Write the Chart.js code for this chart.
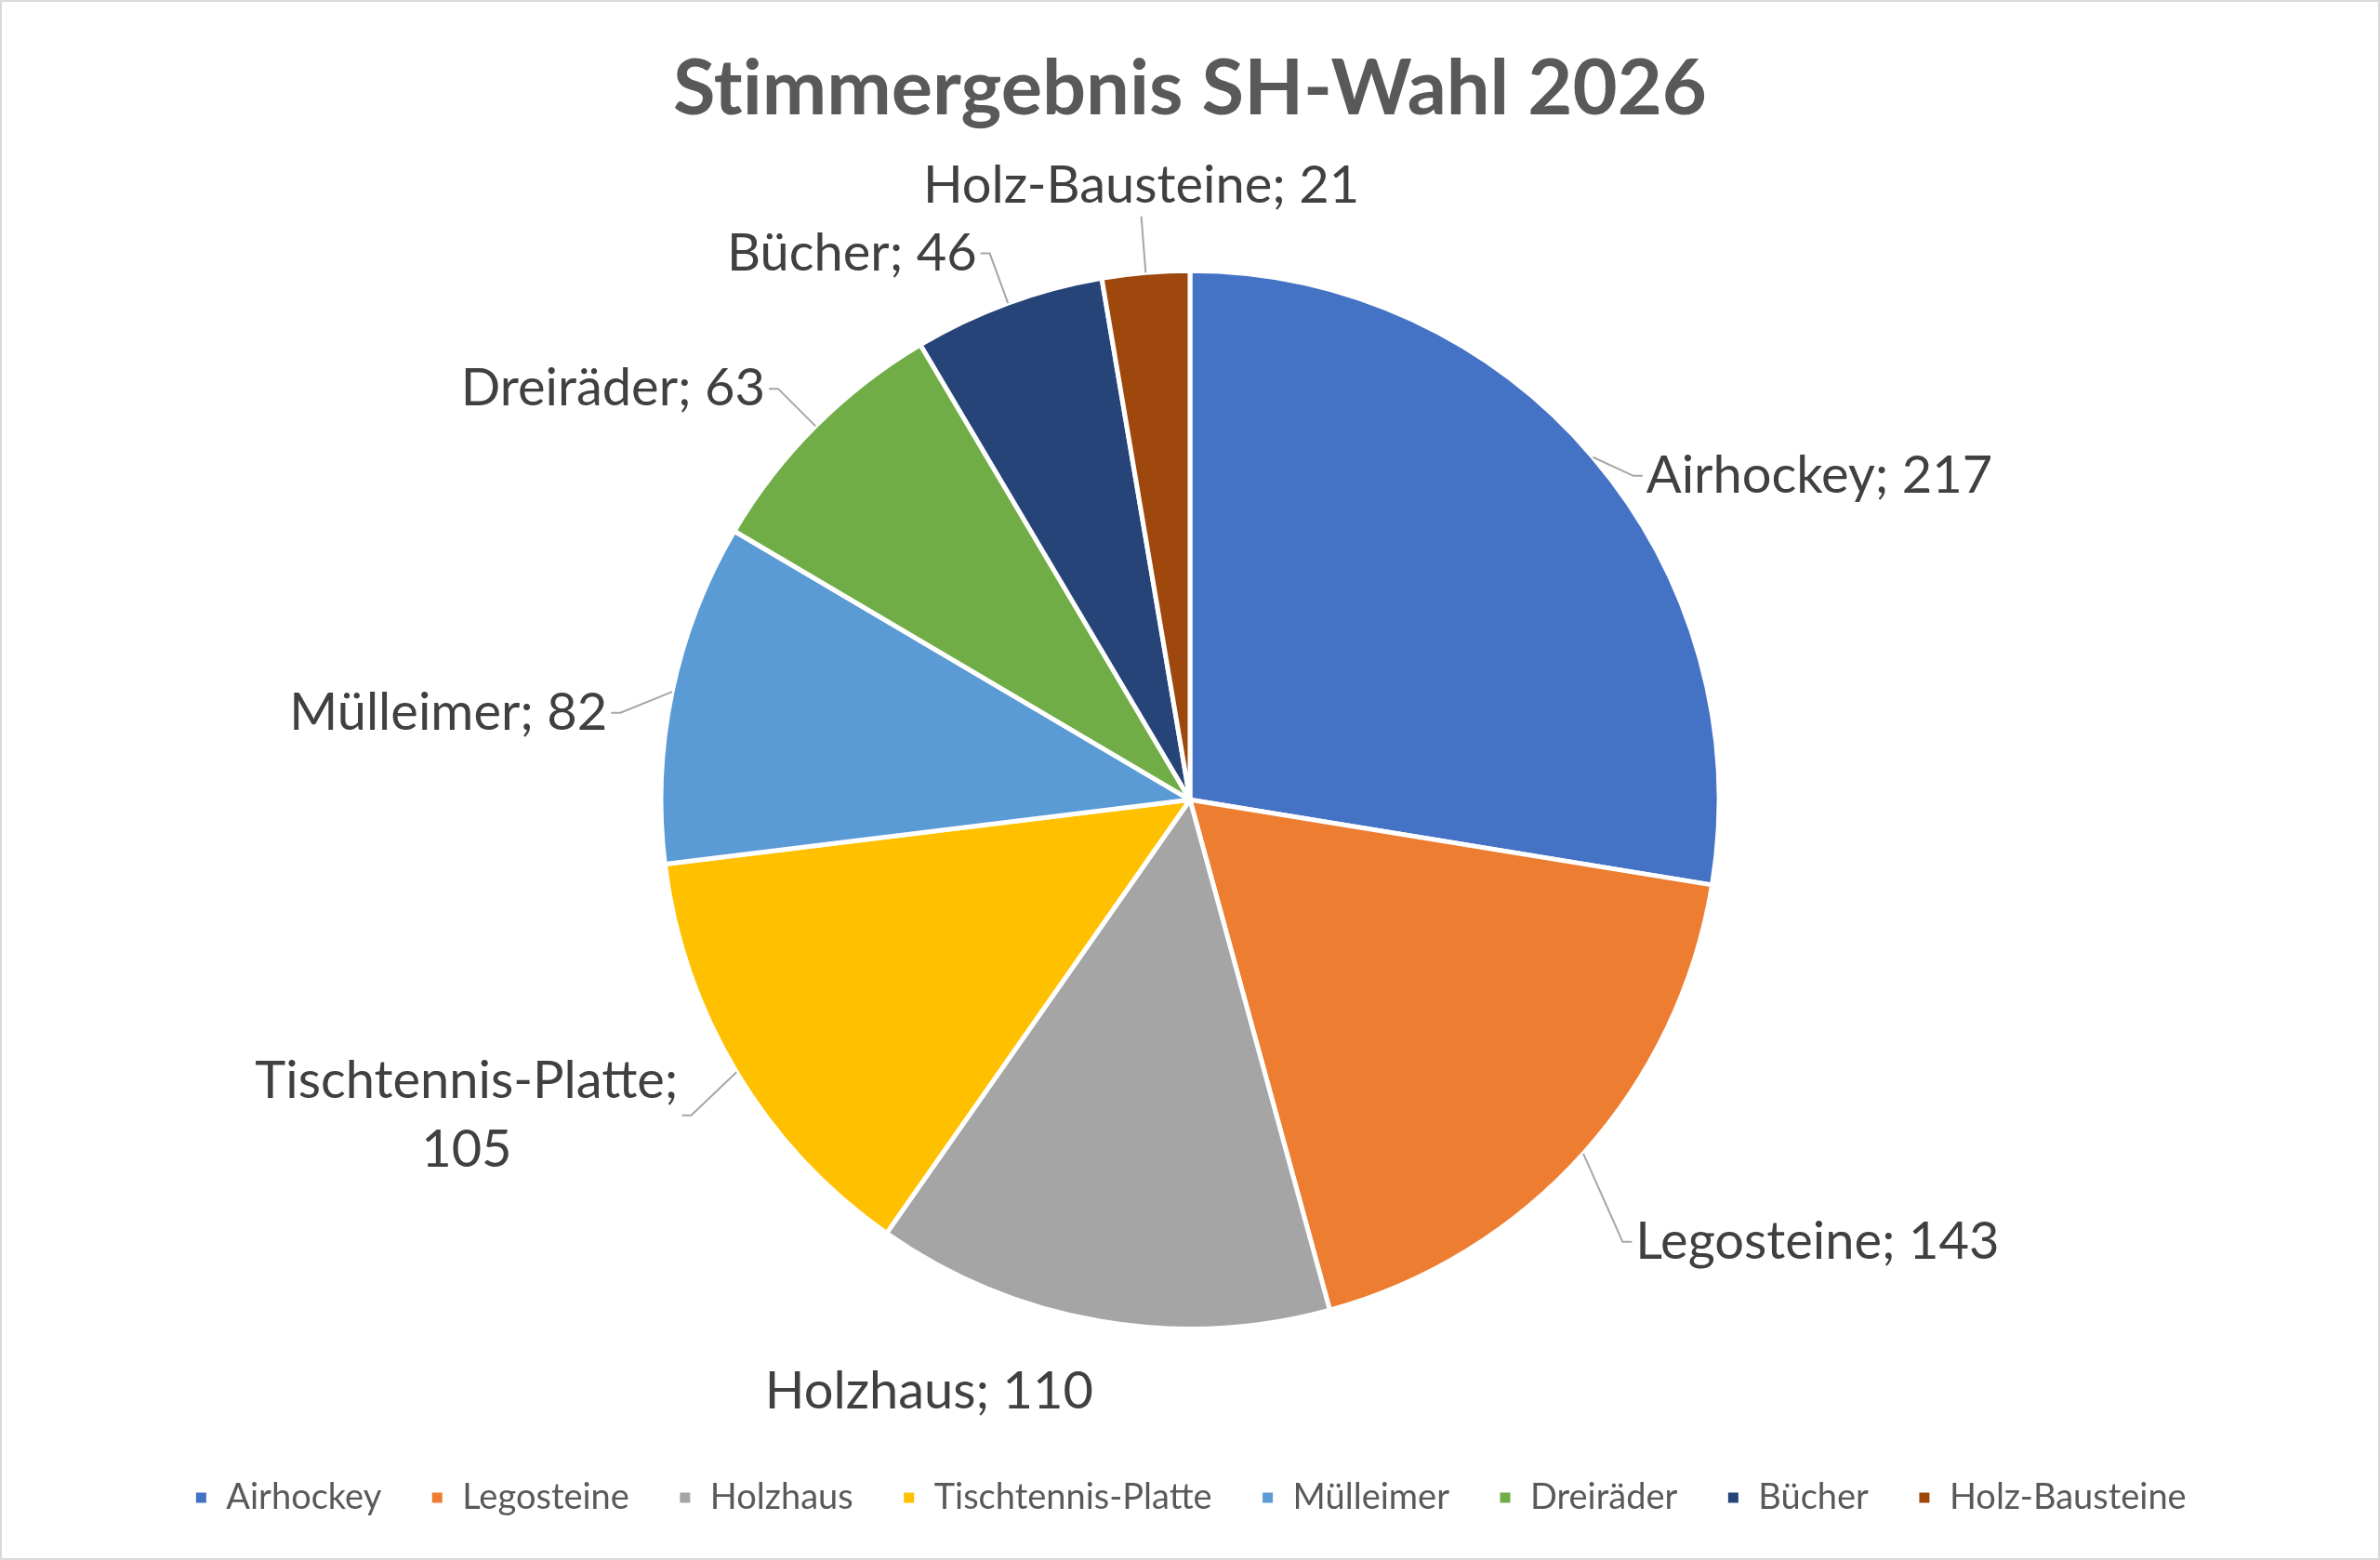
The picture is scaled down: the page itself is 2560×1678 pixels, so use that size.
<!DOCTYPE html>
<html>
<head>
<meta charset="utf-8">
<title>Stimmergebnis SH-Wahl 2026</title>
<script src="https://cdn.jsdelivr.net/npm/chart.js@4.4.1/dist/chart.umd.min.js"></script>
<style>
  html, body { margin: 0; padding: 0; background: #fff; }
  #wrap { position: relative; width: 2560px; height: 1678px; box-sizing: border-box; border: 2px solid #d9d9d9; }
</style>
</head>
<body>
<div id="wrap"><canvas id="voteChart"></canvas></div>
<script>
const categories = ['Airhockey', 'Legosteine', 'Holzhaus', 'Tischtennis-Platte', 'Mülleimer', 'Dreiräder', 'Bücher', 'Holz-Bausteine'];
const votes = [217, 143, 110, 105, 82, 63, 46, 21];
const sliceColors = ['#4472C4', '#ED7D31', '#A5A5A5', '#FFC000', '#5B9BD5', '#70AD47', '#264478', '#9E480E'];

// labels "Name; Wert" outside the slices, with thin leader lines
const sliceLabels = {
    id: 'sliceLabels',
    afterDatasetsDraw(chart) {
        const ctx = chart.ctx;
        const meta = chart.getDatasetMeta(0);
        const lineH = 74;
        ctx.save();
        ctx.font = '56px Lato';
        ctx.fillStyle = '#404040';
        ctx.strokeStyle = '#a6a6a6';
        ctx.lineWidth = 2;
        meta.data.forEach((arc, i) => {
            const p = arc.getProps(['x', 'y', 'startAngle', 'endAngle', 'outerRadius'], true);
            const mid = (p.startAngle + p.endAngle) / 2;
            const ux = Math.cos(mid), uy = Math.sin(mid);
            const r = p.outerRadius;
            const text = categories[i] + '; ' + votes[i];
            let lines = [text];
            if (ctx.measureText(text).width > 540) lines = [categories[i] + ';', String(votes[i])];
            const w = Math.max(...lines.map(l => ctx.measureText(l).width));
            const h = lines.length * lineH;
            const side = Math.abs(ux) > 0.3;
            const bottom = !side && uy > 0;
            const k = bottom ? 1.07 : 1.1;
            const ax = p.x + ux * r * k;
            const ay = p.y + uy * r * k;
            let cx, cy;
            if (side) {
                // excel hangs most side labels a little lower
                let drop = 0;
                if (ux > 0) drop = 0.1 * r;
                else if (uy > 0) drop = 0.03 * r;
                else if (uy > -0.5) drop = 0.06 * r;
                cy = ay + drop;
                cx = ux > 0 ? ax + 14 + w / 2 : ax - 14 - w / 2;
            } else if (bottom) {
                cx = ux < 0 ? ax - w / 2 : ax + w / 2;
                cy = ay + h / 2;
            } else {
                cx = ax;
                cy = ay - h / 2;
            }
            if (!bottom) {
                const ex = p.x + ux * r, ey = p.y + uy * r;
                ctx.beginPath();
                ctx.moveTo(ex, ey);
                if (side) {
                    ctx.lineTo(ax, cy);
                    ctx.lineTo(ux > 0 ? ax + 10 : ax - 10, cy);
                } else {
                    ctx.lineTo(ax, ay - 4);
                }
                ctx.stroke();
            }
            ctx.textAlign = 'center';
            ctx.textBaseline = 'middle';
            lines.forEach((l, n) => {
                ctx.fillText(l, cx, cy - h / 2 + lineH * (n + 0.5));
            });
        });
        ctx.restore();
    }
};

const chart = new Chart(document.getElementById('voteChart'), {
    type: 'pie',
    data: {
        labels: categories,
        datasets: [{
            data: votes,
            backgroundColor: sliceColors,
            borderColor: '#ffffff',
            borderWidth: 5,
            radius: 569
        }]
    },
    options: {
        responsive: true,
        maintainAspectRatio: false,
        animation: false,
        layout: { padding: { top: 0, bottom: 36, left: 0, right: 0 } },
        plugins: {
            title: {
                display: true,
                // zero-width non-joiner keeps Lato from fusing "ti"
                text: 'St\u200Cimmergebnis SH-Wahl 2026',
                color: '#595959',
                font: { family: 'Lato', size: 83, weight: 'bold' },
                padding: { top: 44, bottom: 35 }
            },
            legend: {
                position: 'bottom',
                labels: {
                    color: '#595959',
                    font: { family: 'Lato', size: 38 },
                    boxWidth: 16,
                    boxHeight: 16,
                    padding: 52
                }
            },
            tooltip: { enabled: false }
        }
    },
    plugins: [sliceLabels]
});
</script>
</body>
</html>
